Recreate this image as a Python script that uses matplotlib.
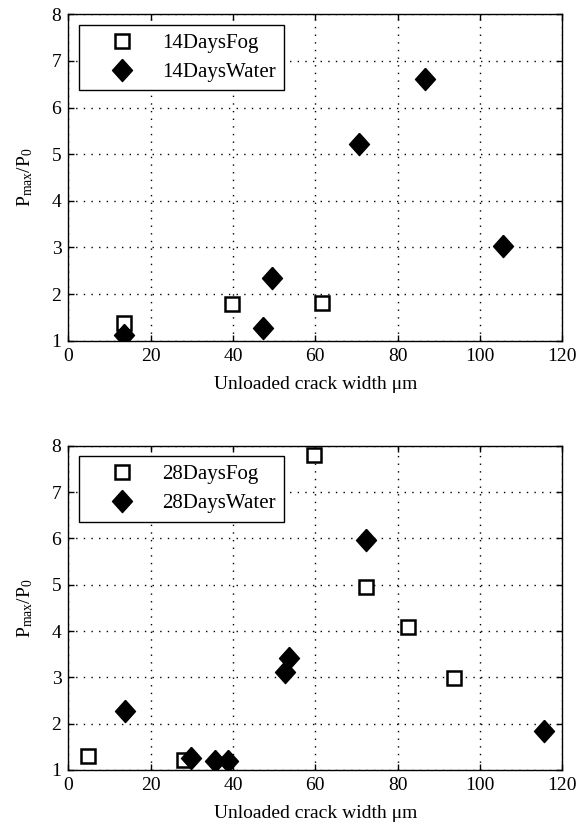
import matplotlib
matplotlib.use('Agg')
import matplotlib.pyplot as plt

plt.rcParams['font.family'] = 'Liberation Serif'
plt.rcParams['mathtext.fontset'] = 'custom'
plt.rcParams['mathtext.rm'] = 'Liberation Serif'
plt.rcParams['mathtext.it'] = 'Liberation Serif'

# 14 days
fog14_x = [13.5, 39.7, 61.6]
fog14_y = [1.38, 1.78, 1.80]
water14_x = [13.6, 47.4, 49.6, 70.6, 86.7, 105.6]
water14_y = [1.12, 1.27, 2.34, 5.22, 6.61, 3.04]

# 28 days
fog28_x = [4.9, 28.0, 59.8, 72.4, 82.5, 93.7]
fog28_y = [1.31, 1.22, 7.80, 4.96, 4.08, 2.99]
water28_x = [13.7, 29.8, 35.7, 38.7, 52.7, 53.5, 72.4, 115.5]
water28_y = [2.28, 1.26, 1.19, 1.20, 3.11, 3.41, 5.97, 1.84]

xticks = [0, 20, 40, 60, 80, 100, 120]
yticks = [1, 2, 3, 4, 5, 6, 7, 8]

# matlab-like diamond, a bit taller than wide
diamond = [(0, 1), (0.9, 0), (0, -1), (-0.9, 0), (0, 1)]

W, H = 579, 826
fig = plt.figure(figsize=(W / 100, H / 100), dpi=100)
ax1 = fig.add_axes([68.3 / W, 1 - 340.7 / H, 494 / W, 326.4 / H])
ax2 = fig.add_axes([68.3 / W, 1 - 770 / H, 494 / W, 324.3 / H])

panels = [
    (ax1, 326.4, fog14_x, fog14_y, water14_x, water14_y, '14DaysFog', '14DaysWater'),
    (ax2, 324.3, fog28_x, fog28_y, water28_x, water28_y, '28DaysFog', '28DaysWater'),
]

for ax, ah, fx, fy, wx, wy, lf, lw in panels:
    ax.plot(fx, fy, 's', markersize=10.5, markerfacecolor='white',
            markeredgecolor='black', markeredgewidth=1.8, label=lf)
    ax.plot(wx, wy, marker=diamond, linestyle='none', markersize=16,
            color='black', label=lw)
    ax.set_xlim(0, 120)
    ax.set_ylim(1, 8)
    ax.set_xticks(xticks)
    ax.set_yticks(yticks)
    ax.grid(True, linestyle=(0, (1, 4.5)), color='black', linewidth=1.0)
    ax.tick_params(direction='in', top=True, right=True, labelsize=14,
                   length=4.3, width=1.0, pad=5)
    ax.set_xlabel('Unloaded crack width \u03bcm', fontsize=14, labelpad=8)
    ax.set_ylabel(r'P$_{\mathrm{max}}$/P$_0$', fontsize=14, labelpad=12)
    leg = ax.legend(loc='upper left', bbox_to_anchor=(10.7 / 494, 1 - 10.7 / ah),
                    borderaxespad=0, fontsize=15, frameon=True, fancybox=False,
                    edgecolor='black', framealpha=1, handlelength=3.3,
                    handletextpad=0.3, borderpad=0.4, labelspacing=0.45,
                    numpoints=1)
    leg.get_frame().set_linewidth(1.0)
    for s in ax.spines.values():
        s.set_linewidth(1.0)

fig.savefig('out.png', dpi=100)
